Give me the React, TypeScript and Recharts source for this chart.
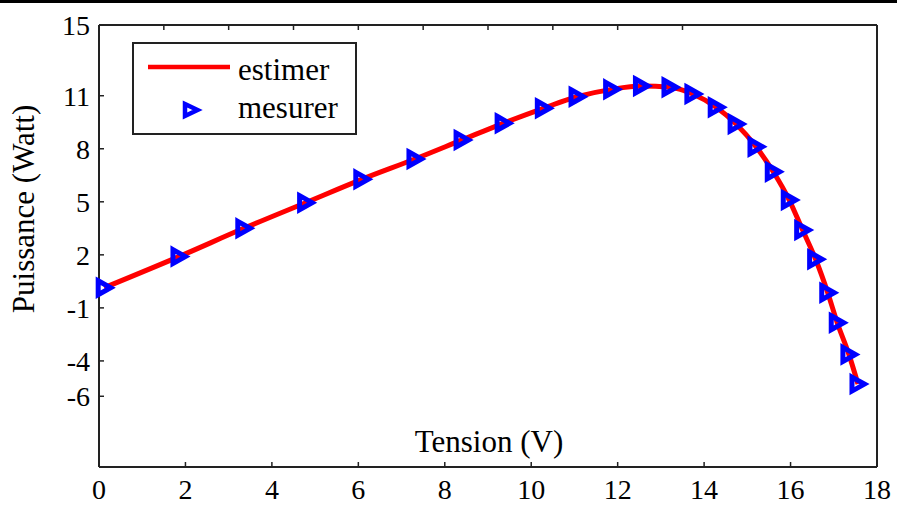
import React from 'react';
import { ComposedChart, Line, Scatter, XAxis, YAxis } from 'recharts';

const tension = [
  0.12, 1.85, 3.35, 4.78, 6.08, 7.31, 8.4, 9.35, 10.28, 11.06, 11.86, 12.55, 13.21,
  13.74, 14.28, 14.74, 15.2, 15.6, 15.97, 16.28, 16.58, 16.86, 17.08, 17.35, 17.56,
];
const puissance = [
  0.14, 1.9, 3.5, 4.95, 6.27, 7.42, 8.5, 9.44, 10.29, 10.94, 11.36, 11.55, 11.48,
  11.1, 10.35, 9.4, 8.12, 6.7, 5.1, 3.4, 1.75, -0.14, -1.84, -3.63, -5.31,
];
const xTicks = [0, 2, 4, 6, 8, 10, 12, 14, 16, 18];
const yTicks = [-6, -4, -1, 2, 5, 8, 11, 15];

const data = tension.map((v, i) => ({ v, p: puissance[i] }));

const FONT = "'Liberation Serif', 'Times New Roman', serif";
const AXIS = '#222';
const TICK_LEN = 5;
const X_TICK_GAP = 12;

const Triangle = (props: any) => {
  const { cx, cy, small } = props;
  if (cx == null || cy == null) return null;
  const h = small ? 6 : 7;
  return (
    <path
      d={`M${cx - 6},${cy - h}L${cx + 6.5},${cy}L${cx - 6},${cy + h}Z`}
      fill="none"
      stroke="#0000ff"
      strokeWidth={small ? 4.5 : 5}
    />
  );
};

// tick label below the axis plus a short tick pointing into the plot
const BottomTick = (props: any) => {
  const { x, y, payload } = props;
  const axisY = y - X_TICK_GAP;
  return (
    <g>
      <line x1={x} y1={axisY} x2={x} y2={axisY - TICK_LEN} stroke={AXIS} strokeWidth={1.5} />
      <text x={x} y={y} dy="0.71em" textAnchor="middle" fontFamily={FONT} fontSize={28} fill="#000">
        {payload.value}
      </text>
    </g>
  );
};

const LeftTick = (props: any) => {
  const { x, y, payload } = props;
  const axisX = x + 9;
  return (
    <g>
      <line x1={axisX} y1={y} x2={axisX + TICK_LEN} y2={y} stroke={AXIS} strokeWidth={1.5} />
      <text x={x} y={y} dy="0.355em" textAnchor="end" fontFamily={FONT} fontSize={28} fill="#000">
        {payload.value}
      </text>
    </g>
  );
};

const TopTick = (props: any) => {
  const { x, y } = props;
  return <line x1={x} y1={y} x2={x} y2={y + TICK_LEN} stroke={AXIS} strokeWidth={1.5} />;
};

const RightTick = (props: any) => {
  const { x, y } = props;
  return <line x1={x} y1={y} x2={x - TICK_LEN} y2={y} stroke={AXIS} strokeWidth={1.5} />;
};

const YLabel = () => (
  <text
    x={23}
    y={209}
    transform="rotate(-90 23 209)"
    textAnchor="middle"
    dominantBaseline="central"
    fontFamily={FONT}
    fontSize={31}
    fill="#000"
  >
    Puissance (Watt)
  </text>
);

const XLabel = () => (
  <text x={489} y={452} textAnchor="middle" fontFamily={FONT} fontSize={31} fill="#000">
    Tension (V)
  </text>
);

export default function App() {
  return (
    <div style={{ position: 'absolute', left: 0, top: 0, width: 897, height: 505, background: '#fff' }}>
      <ComposedChart width={897} height={505} data={data} margin={{ top: 24, right: 19, bottom: 0, left: 0 }}>
        <XAxis
          type="number"
          dataKey="v"
          domain={[0, 18]}
          ticks={xTicks}
          interval={0}
          height={38}
          tickSize={0}
          tickMargin={X_TICK_GAP}
          tick={<BottomTick />}
          axisLine={{ stroke: AXIS, strokeWidth: 2 }}
          tickLine={false}
          label={<XLabel />}
        />
        <XAxis
          xAxisId="top"
          orientation="top"
          type="number"
          domain={[0, 18]}
          ticks={xTicks}
          interval={0}
          height={1}
          tickSize={0}
          tickMargin={0}
          tick={<TopTick />}
          axisLine={{ stroke: AXIS, strokeWidth: 2 }}
          tickLine={false}
        />
        <YAxis
          type="number"
          domain={[-10, 15]}
          ticks={yTicks}
          interval={0}
          width={99}
          tickSize={0}
          tickMargin={9}
          tick={<LeftTick />}
          axisLine={{ stroke: AXIS, strokeWidth: 2 }}
          tickLine={false}
          label={<YLabel />}
        />
        <YAxis
          yAxisId="right"
          orientation="right"
          type="number"
          domain={[-10, 15]}
          ticks={yTicks}
          interval={0}
          width={1}
          tickSize={0}
          tickMargin={0}
          tick={<RightTick />}
          axisLine={{ stroke: AXIS, strokeWidth: 2 }}
          tickLine={false}
        />
        <Line
          type="monotone"
          dataKey="p"
          name="estimer"
          stroke="#ff0000"
          strokeWidth={5}
          dot={false}
          isAnimationActive={false}
        />
        <Scatter dataKey="p" name="mesurer" shape={<Triangle />} isAnimationActive={false} />
      </ComposedChart>

      <div style={{ position: 'absolute', left: 0, top: 0, width: 897, height: 3, background: '#000' }} />

      <div
        style={{
          position: 'absolute',
          left: 132,
          top: 42,
          width: 221,
          height: 89,
          border: `2px solid ${AXIS}`,
          background: '#fff',
        }}
      >
        <svg width={221} height={89} style={{ position: 'absolute', left: 0, top: 0 }}>
          <line x1={14} y1={23} x2={96} y2={23} stroke="#ff0000" strokeWidth={4.5} />
          <text x={104} y={36} fontFamily={FONT} fontSize={31} fill="#000">
            estimer
          </text>
          <Triangle cx={57} cy={66} small />
          <text x={104} y={74} fontFamily={FONT} fontSize={31} fill="#000">
            mesurer
          </text>
        </svg>
      </div>
    </div>
  );
}
